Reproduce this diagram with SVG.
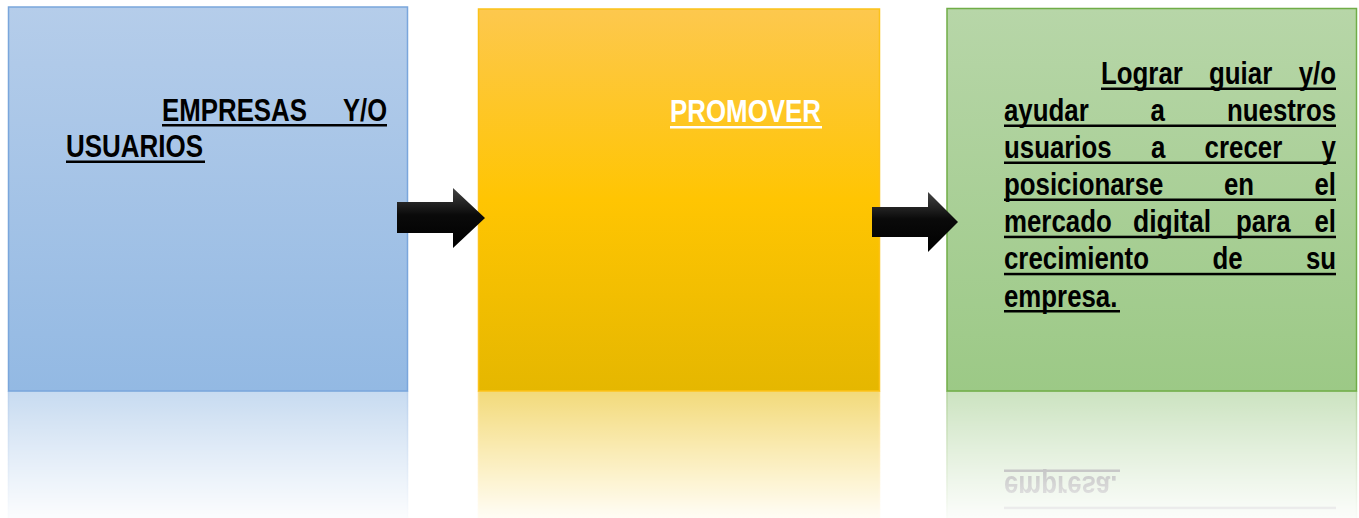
<svg xmlns="http://www.w3.org/2000/svg" width="1359" height="518" viewBox="0 0 1359 518">
<defs>
<style>
.t{font-family:"Liberation Sans Narrow","Arial Narrow","Liberation Sans",Arial,sans-serif;font-weight:bold;font-size:31.5px}
.dk{fill:#000}
.lt{fill:#fff}
.ul{fill:#000}
.ulw{fill:#fff}
</style>
<linearGradient id="gBlue" x1="0" y1="0" x2="0" y2="1">
<stop offset="0" stop-color="#b5cdea"/><stop offset="1" stop-color="#93b9e3"/>
</linearGradient>
<linearGradient id="gYellow" x1="0" y1="0" x2="0" y2="1">
<stop offset="0" stop-color="#fdc84e"/><stop offset="0.5" stop-color="#ffc502"/><stop offset="1" stop-color="#e5b700"/>
</linearGradient>
<linearGradient id="gGreen" x1="0" y1="0" x2="0" y2="1">
<stop offset="0" stop-color="#b7d6a8"/><stop offset="1" stop-color="#9cc986"/>
</linearGradient>
<linearGradient id="gArrow" x1="0" y1="0" x2="0" y2="1">
<stop offset="0" stop-color="#444"/><stop offset="0.45" stop-color="#0a0a0a"/><stop offset="1" stop-color="#000"/>
</linearGradient>
<linearGradient id="gFade" gradientUnits="userSpaceOnUse" x1="0" y1="391" x2="0" y2="518">
<stop offset="0" stop-color="#fff" stop-opacity="0.52"/><stop offset="1" stop-color="#fff" stop-opacity="0.04"/>
</linearGradient>
<mask id="fade" maskUnits="userSpaceOnUse" x="0" y="391" width="1359" height="127">
<rect x="0" y="391" width="1359" height="127" fill="url(#gFade)"/>
</mask>
</defs>

<g id="reflection" mask="url(#fade)">
<g transform="matrix(1 0 0 -1 0 782)">
<rect x="8.5" y="7" width="399" height="384" fill="url(#gBlue)" stroke="#7aa6dc" stroke-width="1.5"/>
<rect x="478.5" y="9" width="401" height="382" fill="url(#gYellow)" stroke="#fcc21a" stroke-width="1.5"/>
<rect x="947" y="8.5" width="409.5" height="382.5" fill="url(#gGreen)" stroke="#70ad47" stroke-width="1.5"/>
<rect class="ul" x="1004" y="272.8" width="332" height="2.5"/>
<text class="t dk" x="1004" y="306.5" textLength="113.4" lengthAdjust="spacingAndGlyphs">empresa.</text>
<rect class="ul" x="1004" y="310" width="116" height="2.5"/>
</g>
</g>

<g id="node-empresas">
<rect x="8.5" y="7" width="399" height="384" fill="url(#gBlue)" stroke="#7aa6dc" stroke-width="1.5"/>
<text class="t dk" x="162" y="121" textLength="145" lengthAdjust="spacingAndGlyphs">EMPRESAS</text>
<text class="t dk" x="343" y="121" textLength="44" lengthAdjust="spacingAndGlyphs">Y/O</text>
<rect class="ul" x="162" y="124" width="225" height="2.5"/>
<text class="t dk" x="66" y="157" textLength="137" lengthAdjust="spacingAndGlyphs">USUARIOS</text>
<rect class="ul" x="66" y="160.5" width="139" height="2.5"/>
</g>

<g id="node-promover">
<rect x="478.5" y="9" width="401" height="382" fill="url(#gYellow)" stroke="#fcc21a" stroke-width="1.5"/>
<text class="t lt" x="670" y="122" textLength="151" lengthAdjust="spacingAndGlyphs">PROMOVER</text>
<rect class="ulw" x="670" y="126" width="152" height="2.5"/>
</g>

<g id="node-lograr">
<rect x="947" y="8.5" width="409.5" height="382.5" fill="url(#gGreen)" stroke="#70ad47" stroke-width="1.5"/>
<text class="t dk" x="1101" y="84" textLength="81.8" lengthAdjust="spacingAndGlyphs">Lograr</text>
<text class="t dk" x="1209" y="84" textLength="63.2" lengthAdjust="spacingAndGlyphs">guiar</text>
<text class="t dk" x="1298.7" y="84" textLength="37.3" lengthAdjust="spacingAndGlyphs">y/o</text>
<rect class="ul" x="1101" y="87.5" width="235" height="2.5"/>
<text class="t dk" x="1004" y="121" textLength="84.7" lengthAdjust="spacingAndGlyphs">ayudar</text>
<text class="t dk" x="1150.6" y="121" textLength="14.4" lengthAdjust="spacingAndGlyphs">a</text>
<text class="t dk" x="1227" y="121" textLength="109" lengthAdjust="spacingAndGlyphs">nuestros</text>
<rect class="ul" x="1004" y="124.5" width="332" height="2.5"/>
<text class="t dk" x="1004" y="158" textLength="107.6" lengthAdjust="spacingAndGlyphs">usuarios</text>
<text class="t dk" x="1150.9" y="158" textLength="14.4" lengthAdjust="spacingAndGlyphs">a</text>
<text class="t dk" x="1204.6" y="158" textLength="77.6" lengthAdjust="spacingAndGlyphs">crecer</text>
<text class="t dk" x="1321.6" y="158" textLength="14.4" lengthAdjust="spacingAndGlyphs">y</text>
<rect class="ul" x="1004" y="161.5" width="332" height="2.5"/>
<text class="t dk" x="1004" y="195" textLength="159.4" lengthAdjust="spacingAndGlyphs">posicionarse</text>
<text class="t dk" x="1223.9" y="195" textLength="30.1" lengthAdjust="spacingAndGlyphs">en</text>
<text class="t dk" x="1314.5" y="195" textLength="21.5" lengthAdjust="spacingAndGlyphs">el</text>
<rect class="ul" x="1004" y="198.5" width="332" height="2.5"/>
<text class="t dk" x="1004" y="232.2" textLength="107.7" lengthAdjust="spacingAndGlyphs">mercado</text>
<text class="t dk" x="1133" y="232.2" textLength="78" lengthAdjust="spacingAndGlyphs">digital</text>
<text class="t dk" x="1236" y="232.2" textLength="54.6" lengthAdjust="spacingAndGlyphs">para</text>
<text class="t dk" x="1314.5" y="232.2" textLength="21.5" lengthAdjust="spacingAndGlyphs">el</text>
<rect class="ul" x="1004" y="235.7" width="332" height="2.5"/>
<text class="t dk" x="1004" y="269.3" textLength="145" lengthAdjust="spacingAndGlyphs">crecimiento</text>
<text class="t dk" x="1212.4" y="269.3" textLength="30.1" lengthAdjust="spacingAndGlyphs">de</text>
<text class="t dk" x="1305.9" y="269.3" textLength="30.1" lengthAdjust="spacingAndGlyphs">su</text>
<rect class="ul" x="1004" y="272.8" width="332" height="2.5"/>
<text class="t dk" x="1004" y="306.5" textLength="113.4" lengthAdjust="spacingAndGlyphs">empresa.</text>
<rect class="ul" x="1004" y="310" width="116" height="2.5"/>
</g>

<g id="connectors">
<polygon points="397,202 453,202 453,188 485,218 453,248 453,233 397,233" fill="url(#gArrow)"/>
<polygon points="872,207 928,207 928,192 958,222 928,252 928,237 872,237" fill="url(#gArrow)"/>
</g>
</svg>
